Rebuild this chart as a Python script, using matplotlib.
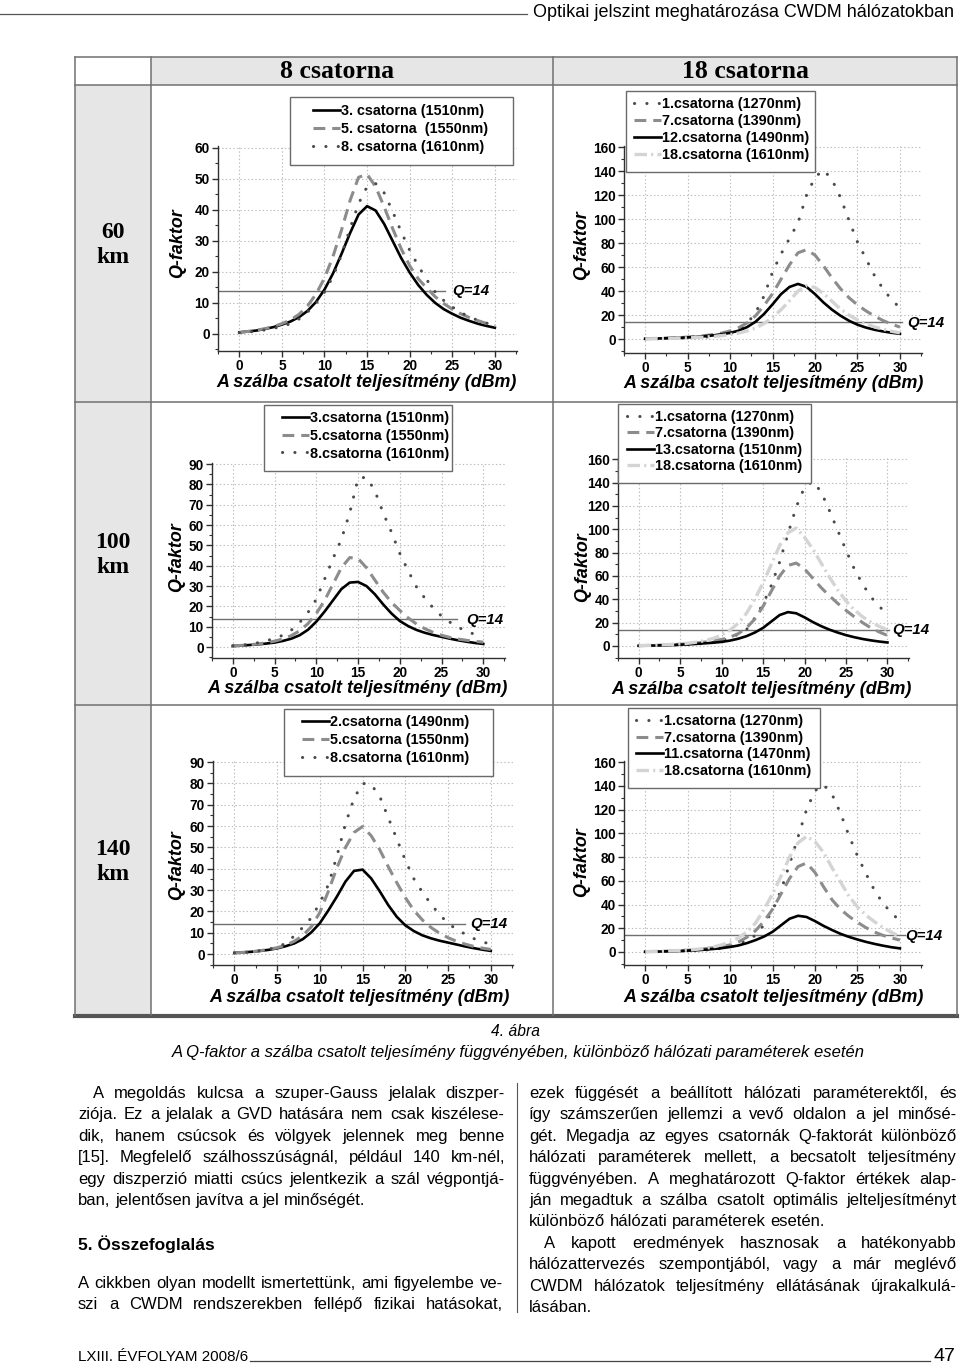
import numpy as np
import matplotlib
matplotlib.use('Agg')
import matplotlib.pyplot as plt
from matplotlib import font_manager
from matplotlib.font_manager import FontProperties
from matplotlib.lines import Line2D
from matplotlib.patches import Rectangle

# ---------------- data ----------------
power_dbm = list(range(31))

# 60 km, 8 channels
q60_8_ch3 = [0.5, 0.8, 1.1, 1.6, 2.2, 3.0, 4.0, 5.4, 7.4, 10.3, 14.3, 19.5, 25.8, 32.5, 38.5, 41.2,
             39.8, 35.5, 30.0, 24.5, 19.8, 15.8, 12.6, 10.0, 8.0, 6.5, 5.2, 4.2, 3.3, 2.6, 2.0]
q60_8_ch5 = [0.5, 0.8, 1.2, 1.7, 2.4, 3.3, 4.5, 6.3, 9.0, 12.8, 18.0, 25.0, 33.5, 43.0, 50.5, 51.5,
             47.5, 41.0, 34.0, 27.5, 22.0, 17.8, 14.8, 12.0, 9.8, 8.0, 6.5, 5.3, 4.3, 3.4, 2.6]
q60_8_ch8 = [0.4, 0.6, 0.9, 1.3, 1.8, 2.4, 3.3, 4.8, 7.0, 9.8, 13.5, 18.5, 25.5, 34.0, 42.0, 47.5,
             48.5, 45.5, 39.5, 33.0, 27.0, 22.0, 17.5, 13.5, 10.8, 8.7, 6.9, 5.5, 4.4, 3.5, 2.8]

# 60 km, 18 channels
q60_18_ch1 = [0.2, 0.3, 0.4, 0.5, 0.7, 0.9, 1.2, 1.6, 2.2, 3.0, 4.5, 7.0, 13, 22, 36, 56,
              71, 84, 97, 120, 135, 141, 133, 118, 99, 81, 67, 53, 42, 33, 26]
q60_18_ch7 = [0.3, 0.5, 0.7, 1.0, 1.3, 1.7, 2.2, 2.9, 3.8, 5.0, 6.8, 9.5, 13.5, 19.5, 28, 38,
              50, 62, 72, 74.5, 70, 61, 51, 42, 34.5, 28.5, 23.5, 19.2, 15.5, 12.5, 10.0]
q60_18_ch12 = [0.3, 0.4, 0.6, 0.8, 1.1, 1.4, 1.8, 2.4, 3.1, 4.0, 5.2, 7.0, 10.0, 14.5, 21, 29,
               37.5, 43.5, 46, 43.5, 37.5, 30.5, 24.5, 19.5, 15.3, 12.0, 9.6, 7.8, 6.4, 5.3, 4.4]
q60_18_ch18 = [0.2, 0.3, 0.4, 0.6, 0.8, 1.0, 1.3, 1.7, 2.2, 2.9, 3.8, 5.0, 6.8, 9.2, 13, 18,
               24.5, 32, 40, 44.5, 43, 38, 31.5, 25, 20, 16, 12.8, 10.2, 8.2, 6.5, 5.2]

# 100 km, 8 channels
q100_8_ch3 = [0.5, 0.7, 1.0, 1.3, 1.7, 2.2, 3.0, 4.1, 5.8, 8.5, 12.5, 17.5, 23, 28.5, 31.7, 32,
              30, 26, 21, 16.5, 12.8, 10.3, 8.4, 7.0, 5.9, 5.0, 4.1, 3.3, 2.6, 2.0, 1.5]
q100_8_ch5 = [0.5, 0.8, 1.1, 1.5, 2.1, 2.9, 4.0, 5.6, 8.0, 11.5, 16.5, 23, 31, 39, 44, 43.5,
              39, 33, 27, 22, 18, 14.3, 11.3, 9.0, 7.2, 5.8, 4.7, 3.9, 3.3, 2.8, 2.4]
q100_8_ch8 = [0.6, 0.9, 1.4, 2.1, 3.0, 4.3, 5.8, 8.3, 12, 17, 23.5, 33.5, 43.5, 53, 66, 83,
              83.5, 77, 66, 56.5, 46, 37.5, 29.5, 24, 19.2, 15.2, 12.2, 9.7, 7.7, 6.2, 5.1]

# 100 km, 18 channels
q100_18_ch1 = [0.2, 0.3, 0.4, 0.5, 0.7, 0.9, 1.2, 1.6, 2.2, 3.0, 4.5, 7.0, 10, 14, 24, 36,
               52, 72, 96, 119, 136, 141, 132, 116, 99, 82, 66, 53, 42, 34, 27]
q100_18_ch7 = [0.3, 0.4, 0.6, 0.8, 1.1, 1.5, 2.0, 2.6, 3.4, 4.4, 5.6, 7.5, 10.5, 15.5, 23, 34,
               47, 60, 69, 71, 66, 58, 50, 43, 36.5, 30.5, 25, 20, 15.5, 12, 9]
q100_18_ch13 = [0.2, 0.3, 0.4, 0.6, 0.8, 1.1, 1.4, 1.8, 2.3, 2.8, 3.5, 4.6, 6.2, 8.4, 11.5, 15.5,
                21, 26.5, 29, 28, 24.5, 20.5, 17, 14, 11.5, 9.3, 7.5, 6.0, 4.8, 3.8, 3.0]
q100_18_ch18 = [0.3, 0.5, 0.7, 1.0, 1.3, 1.8, 2.4, 3.3, 4.6, 6.5, 9.3, 13.5, 19.5, 28, 40, 54,
                70, 86, 97, 101, 93, 83, 71, 59, 48, 38.5, 31, 25, 20.5, 16.8, 13.8]

# 140 km, 8 channels
q140_8_ch2 = [0.6, 0.8, 1.1, 1.5, 2.0, 2.7, 3.7, 5.0, 7.0, 10.2, 14.5, 20.5, 27, 34, 39, 39.6,
              35.5, 29.5, 23, 17.5, 13.5, 10.8, 8.8, 7.4, 6.3, 5.4, 4.5, 3.6, 2.8, 2.1, 1.5]
q140_8_ch5 = [0.5, 0.8, 1.1, 1.6, 2.2, 3.0, 4.2, 6.0, 8.7, 12.8, 19.5, 29.5, 40.5, 50, 57, 59.8,
              55.5, 49, 41, 33.5, 26.5, 20.5, 16, 12.5, 9.8, 7.7, 6.0, 4.7, 3.6, 2.8, 2.2]
q140_8_ch8 = [0.5, 0.8, 1.1, 1.6, 2.3, 3.3, 5.0, 8.5, 12.5, 17, 24, 32.5, 46, 61, 73, 80,
              79.5, 74, 64, 54, 44, 35.3, 29, 23.5, 18.5, 14.5, 11.5, 9.4, 7.3, 5.8, 4.6]

# 140 km, 18 channels
q140_18_ch1 = [0.2, 0.3, 0.4, 0.5, 0.7, 0.9, 1.2, 1.6, 2.2, 3.0, 4.5, 7.0, 10, 14, 23, 35,
               52, 74, 97, 120, 136, 141, 133, 117, 98, 81, 66, 52, 41, 33, 26]
q140_18_ch7 = [0.3, 0.4, 0.6, 0.8, 1.1, 1.5, 2.0, 2.7, 3.6, 4.7, 6.0, 8.5, 12.5, 18, 26, 36,
               49, 62, 72, 75, 67, 55, 44, 36, 30, 25, 20.5, 16.8, 14, 11.8, 10]
q140_18_ch11 = [0.2, 0.3, 0.4, 0.6, 0.8, 1.1, 1.4, 1.9, 2.5, 3.2, 4.2, 5.5, 7.5, 10, 13, 17,
                22.5, 28, 30.5, 29.5, 26, 22, 18.5, 15.3, 12.7, 10.5, 8.5, 6.8, 5.3, 4.0, 3.0]
q140_18_ch18 = [0.3, 0.4, 0.6, 0.9, 1.2, 1.6, 2.2, 3.0, 4.2, 6.0, 8.3, 12, 17, 24.5, 36, 49,
                64, 80, 92, 97.5, 93, 84, 71, 59, 47, 38, 31, 25.5, 20.5, 16.5, 13]

labels_60_8 = ['3. csatorna (1510nm)', '5. csatorna  (1550nm)', '8. csatorna (1610nm)']
labels_100_8 = ['3.csatorna (1510nm)', '5.csatorna (1550nm)', '8.csatorna (1610nm)']
labels_140_8 = ['2.csatorna (1490nm)', '5.csatorna (1550nm)', '8.csatorna (1610nm)']
labels_60_18 = ['1.csatorna (1270nm)', '7.csatorna (1390nm)', '12.csatorna (1490nm)', '18.csatorna (1610nm)']
labels_100_18 = ['1.csatorna (1270nm)', '7.csatorna (1390nm)', '13.csatorna (1510nm)', '18.csatorna (1610nm)']
labels_140_18 = ['1.csatorna (1270nm)', '7.csatorna (1390nm)', '11.csatorna (1470nm)', '18.csatorna (1610nm)']

column_titles = ['8 csatorna', '18 csatorna']
row_titles = ['60\nkm', '100\nkm', '140\nkm']
q_limit = 14

# ---------------- page setup ----------------
W, H = 960, 1363
plt.rcParams['lines.scale_dashes'] = False
fig = plt.figure(figsize=(W / 100, H / 100), dpi=100)
renderer = fig.canvas.get_renderer()

names = {f.name for f in font_manager.fontManager.ttflist}
SANS = 'Liberation Sans'
NARROW = 'Liberation Sans Narrow' if 'Liberation Sans Narrow' in names else SANS
SERIF = 'Liberation Serif'


def fx(x):
    return x / W


def fy(y):
    return 1 - y / H


def fig_line(xs, ys, **kw):
    fig.add_artist(Line2D([fx(x) for x in xs], [fy(y) for y in ys], transform=fig.transFigure, **kw))


def fig_rect(x0, y0, x1, y1, color):
    fig.add_artist(Rectangle((fx(x0), fy(y1)), fx(x1) - fx(x0), (y1 - y0) / H,
                             transform=fig.transFigure, facecolor=color, edgecolor='none', zorder=0))


def text_width(s, fp):
    t = fig.text(0, 0, s, fontproperties=fp)
    w = t.get_window_extent(renderer).width
    t.remove()
    return w


def fit_text(s, x0, x1, y, fp, ha='left'):
    # scale the font so the text spans x0..x1 pixels
    w = text_width(s, fp)
    fp = fp.copy()
    fp.set_size(fp.get_size() * (x1 - x0) / w)
    x = x0 if ha == 'left' else (x0 + x1) / 2
    fig.text(fx(x), fy(y), s, fontproperties=fp, ha=ha, va='baseline')


# ---------------- table frame ----------------
tab_x = [75, 151, 553, 957]
tab_y = [57, 85, 402, 705, 1015]
cell_gray = '#e6e6e6'
fig_rect(tab_x[1], tab_y[0], tab_x[3], tab_y[1], cell_gray)
fig_rect(tab_x[0], tab_y[1], tab_x[1], tab_y[4], cell_gray)
for y in tab_y[:-1]:
    fig_line([tab_x[0], tab_x[3]], [y, y], color='#707070', lw=1.1)
fig_line([tab_x[0], tab_x[3]], [tab_y[4] + 1, tab_y[4] + 1], color='#555555', lw=3)
for x in tab_x:
    fig_line([x, x], [tab_y[0], tab_y[4]], color='#707070', lw=1.1)

for title, xc in zip(column_titles, [337, 745]):
    fig.text(fx(xc), fy(72), title, family=SERIF, weight='bold', size=18.5, ha='center', va='center')
for title, yc in zip(row_titles, [245, 555, 862]):
    fig.text(fx(113), fy(yc), title, family=SERIF, weight='bold', size=17, ha='center', va='center',
             linespacing=1.25)

# ---------------- charts ----------------
STYLE = {
    'solid': dict(color='black', lw=1.9, ls='-'),
    'dash': dict(color='#8c8c8c', lw=2.2, dashes=(8.5, 5)),
    'dot': dict(color='#4a4a4a', lw=2.2, dashes=(0.1, 8.8), dash_capstyle='round'),
    'light': dict(color='#d4d4d4', lw=2.4, dashes=(9, 3, 1.5, 3)),
}
tick_fp = FontProperties(family=SANS, weight='bold', size=9.8)
label_fp = FontProperties(family=SANS, weight='bold', style='italic', size=12.9)
legend_fp = FontProperties(family=SANS, weight='bold', size=10.4)


def draw_chart(box, ylim, ystep, series, legend_box, legend_xy, spacing, q_end, q_xy, xlabel_xy, ylabel_xy):
    l, t, r, b = box
    ax = fig.add_axes([fx(l), fy(b), (r - l) / W, (b - t) / H])
    ax.set_xlim(-2.5, 32.6)
    ax.set_ylim(*ylim)
    for side in ['top', 'right']:
        ax.spines[side].set_visible(False)
    for side in ['left', 'bottom']:
        ax.spines[side].set_color('#303030')
        ax.spines[side].set_linewidth(1.0)
    ymax = int(round(ylim[1] / ystep)) * ystep
    ax.set_xticks(range(0, 31, 5))
    ax.set_xticks(np.arange(-2.5, 32.6, 2.5), minor=True)
    ax.set_yticks(np.arange(0, ymax + 1, ystep))
    ax.set_yticks(np.arange(-ystep / 2, ymax + 1, ystep / 2), minor=True)
    ax.tick_params(which='major', direction='out', length=4, width=1, pad=2, color='#303030')
    ax.tick_params(which='minor', direction='out', length=2.5, width=0.8, color='#303030')
    for lab in ax.get_xticklabels() + ax.get_yticklabels():
        lab.set_fontproperties(tick_fp)
    ax.grid(True, which='major', ls=':', color='#bcbcbc', lw=0.8)
    ax.set_axisbelow(True)

    ax.plot([-2.5, q_end], [q_limit, q_limit], color='#707070', lw=1.0, zorder=1.5)
    handles = []
    for values, lab, key in series:
        ln, = ax.plot(power_dbm, values, label=lab, zorder=2, **STYLE[key])
        handles.append(ln)

    # legend frame drawn as its own box (the original has wide side padding)
    x0, y0, x1, y1 = legend_box
    ax.add_patch(Rectangle((fx(x0), fy(y1)), (x1 - x0) / W, (y1 - y0) / H, transform=fig.transFigure,
                           facecolor='white', edgecolor='#6a6a6a', lw=1.0, zorder=4, clip_on=False))
    leg = ax.legend(handles=handles, loc='upper left',
                    bbox_to_anchor=(fx(legend_xy[0]), fy(legend_xy[1])), bbox_transform=fig.transFigure,
                    prop=legend_fp, frameon=False, borderaxespad=0, borderpad=0,
                    labelspacing=spacing, handlelength=1.85, handletextpad=0.1)
    leg.set_zorder(5)

    fig.text(fx(q_xy[0]), fy(q_xy[1]), 'Q=14', family=SANS, weight='bold', style='italic', size=10.8,
             ha='left', va='center')
    fig.text(fx(xlabel_xy[0]), fy(xlabel_xy[1]), 'A szálba csatolt teljesítmény (dBm)',
             fontproperties=label_fp, ha='center', va='baseline')
    fig.text(fx(ylabel_xy[0]), fy(ylabel_xy[1]), 'Q-faktor', fontproperties=label_fp,
             rotation=90, ha='center', va='center')
    return ax


draw_chart((218, 146, 517, 351), (-5.5, 60.6), 10,
           [(q60_8_ch3, labels_60_8[0], 'solid'), (q60_8_ch5, labels_60_8[1], 'dash'),
            (q60_8_ch8, labels_60_8[2], 'dot')],
           (290, 97, 513, 165), (313, 104), 0.29, 24.1, (452, 291), (367, 387), (178, 243))
draw_chart((624, 146, 922, 353), (-11.6, 161), 20,
           [(q60_18_ch1, labels_60_18[0], 'dot'), (q60_18_ch7, labels_60_18[1], 'dash'),
            (q60_18_ch12, labels_60_18[2], 'solid'), (q60_18_ch18, labels_60_18[3], 'light')],
           (626, 91, 815, 172), (634, 97), 0.2, 30.2, (907, 323), (774, 388), (582, 245))
draw_chart((212, 463, 505, 658), (-5.4, 90.5), 10,
           [(q100_8_ch3, labels_100_8[0], 'solid'), (q100_8_ch5, labels_100_8[1], 'dash'),
            (q100_8_ch8, labels_100_8[2], 'dot')],
           (264, 405, 452, 471), (282, 411), 0.26, 26.9, (466, 620), (358, 693), (177, 557))
draw_chart((618, 458, 909, 658), (-10.3, 161), 20,
           [(q100_18_ch1, labels_100_18[0], 'dot'), (q100_18_ch7, labels_100_18[1], 'dash'),
            (q100_18_ch13, labels_100_18[2], 'solid'), (q100_18_ch18, labels_100_18[3], 'light')],
           (618, 404, 811, 483), (627, 410), 0.17, 30.2, (892, 630), (762, 694), (583, 567))
draw_chart((213, 761, 513, 965), (-5.1, 90.5), 10,
           [(q140_8_ch2, labels_140_8[0], 'solid'), (q140_8_ch5, labels_140_8[1], 'dash'),
            (q140_8_ch8, labels_140_8[2], 'dot')],
           (284, 709, 493, 776), (302, 715), 0.29, 27.0, (470, 924), (360, 1002), (177, 865))
draw_chart((624, 761, 922, 965), (-11, 161), 20,
           [(q140_18_ch1, labels_140_18[0], 'dot'), (q140_18_ch7, labels_140_18[1], 'dash'),
            (q140_18_ch11, labels_140_18[2], 'solid'), (q140_18_ch18, labels_140_18[3], 'light')],
           (628, 708, 820, 788), (636, 714), 0.18, 30.6, (905, 936), (774, 1002), (582, 862))

# ---------------- page text ----------------
head_fp = FontProperties(family=NARROW, size=12)
fig_line([0, 527], [14, 14], color='#555555', lw=0.9)
fit_text('Optikai jelszint meghatározása CWDM hálózatokban', 533, 955, 17, head_fp)

cap_fp = FontProperties(family=NARROW, style='italic', size=10)
fit_text('4. ábra', 491, 540, 1036, cap_fp, ha='center')
fit_text('A Q-faktor a szálba csatolt teljesímény függvényében, különböző hálózati paraméterek esetén',
         170, 866, 1057, cap_fp, ha='center')

body_fp = FontProperties(family=NARROW, size=12.0)
space_w = text_width('a a', body_fp) - text_width('aa', body_fp)


def put_line(line, x0, x1, y, justify=True, fp=body_fp):
    words = line.split()
    widths = [text_width(w, fp) for w in words]
    gap = (x1 - x0 - sum(widths)) / (len(words) - 1) if justify and len(words) > 1 else space_w
    x = x0
    for word, wd in zip(words, widths):
        fig.text(fx(x), fy(y), word, fontproperties=fp, va='baseline')
        x += wd + gap


left_lines = [
    ('A megoldás kulcsa a szuper-Gauss jelalak diszper-', True, 15),
    ('ziója. Ez a jelalak a GVD hatására nem csak kiszélese-', True, 0),
    ('dik, hanem csúcsok és völgyek jelennek meg benne', True, 0),
    ('[15]. Megfelelő szálhosszúságnál, például 140 km-nél,', True, 0),
    ('egy diszperzió miatti csúcs jelentkezik a szál végpontjá-', True, 0),
    ('ban, jelentősen javítva a jel minőségét.', False, 0),
]
left_tail = [
    ('A cikkben olyan modellt ismertettünk, ami figyelembe ve-', True, 0),
    ('szi a CWDM rendszerekben fellépő fizikai hatásokat,', True, 0),
]
right_lines = [
    ('ezek függését a beállított hálózati paraméterektől, és', True, 0),
    ('így számszerűen jellemzi a vevő oldalon a jel minősé-', True, 0),
    ('gét. Megadja az egyes csatornák Q-faktorát különböző', True, 0),
    ('hálózati paraméterek mellett, a becsatolt teljesítmény', True, 0),
    ('függvényében. A meghatározott Q-faktor értékek alap-', True, 0),
    ('ján megadtuk a szálba csatolt optimális jelteljesítményt', True, 0),
    ('különböző hálózati paraméterek esetén.', False, 0),
    ('A kapott eredmények hasznosak a hatékonyabb', True, 15),
    ('hálózattervezés szempontjából, vagy a már meglévő', True, 0),
    ('CWDM hálózatok teljesítmény ellátásának újrakalkulá-', True, 0),
    ('lásában.', False, 0),
]
step = 21.4
for i, (line, just, ind) in enumerate(left_lines):
    put_line(line, 78 + ind, 505, 1098 + i * step, just)
fig.text(fx(78), fy(1250), '5. Összefoglalás', family=SANS, weight='bold', size=12.5, va='baseline')
for i, (line, just, ind) in enumerate(left_tail):
    put_line(line, 78 + ind, 503, 1288 + i * step, just)
for i, (line, just, ind) in enumerate(right_lines):
    put_line(line, 529 + ind, 957, 1098 + i * step, just)
fig_line([517, 517], [1083, 1312], color='#555555', lw=0.8)

foot_fp = FontProperties(family=NARROW, size=10)
fit_text('LXIII. ÉVFOLYAM 2008/6', 78, 248, 1361, foot_fp)
fig_line([250, 930], [1361, 1361], color='#444444', lw=0.9)
fig.text(fx(934), fy(1361), '47', family=NARROW, size=14, va='baseline')

fig.savefig('out.png', dpi=100)
